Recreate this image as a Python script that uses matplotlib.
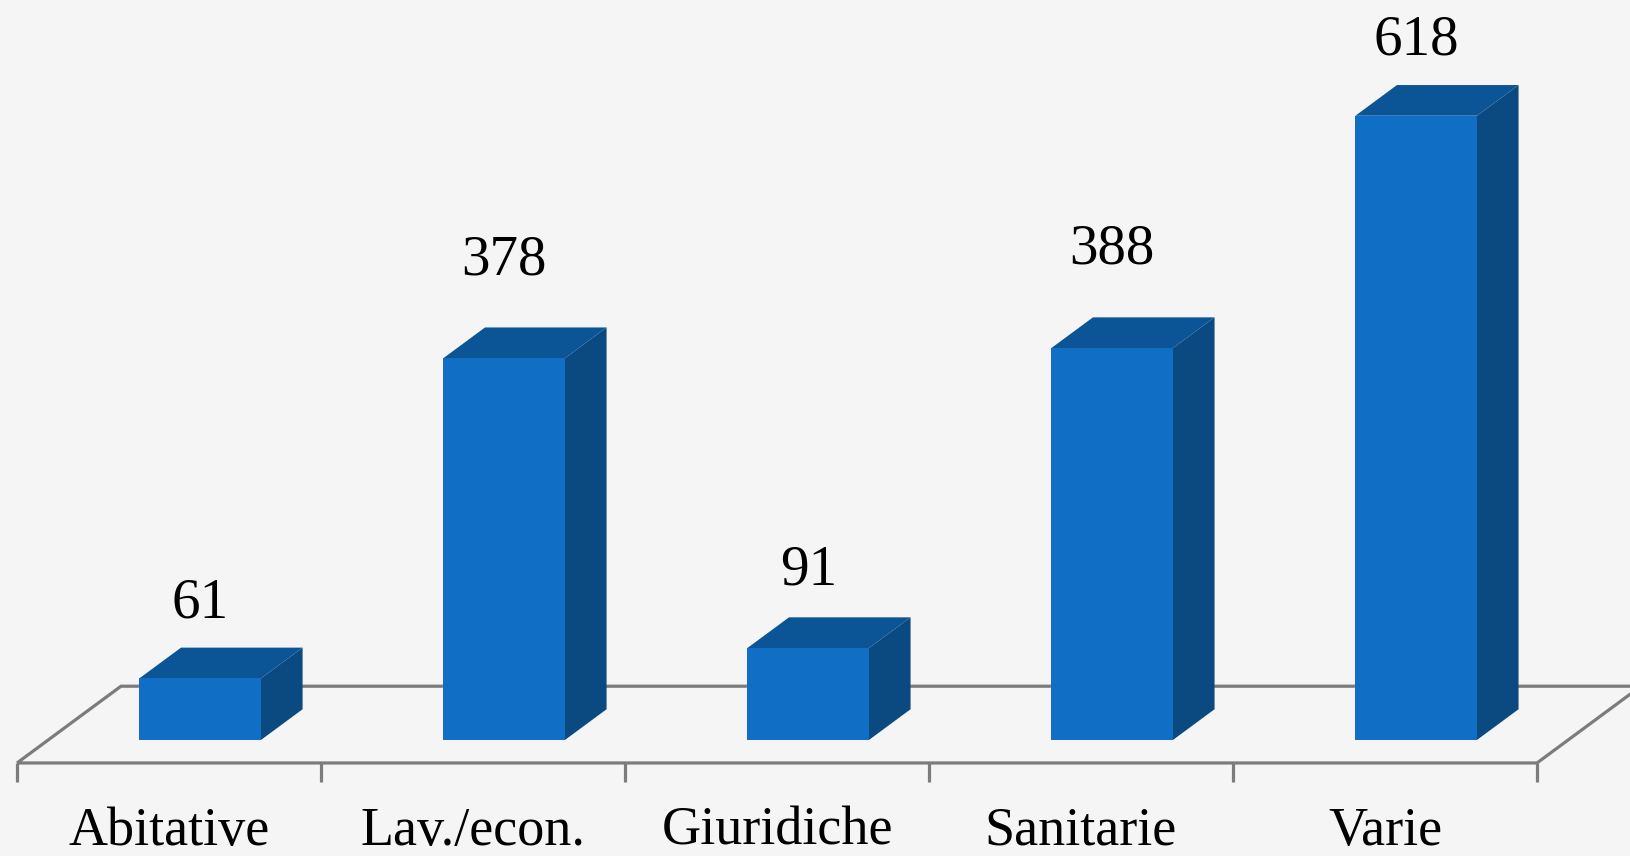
import numpy as np
import matplotlib.pyplot as plt
from matplotlib.patches import Polygon

categories = ["Abitative", "Lav./econ.", "Giuridiche", "Sanitarie", "Varie"]
values = [61, 378, 91, 388, 618]

# pseudo 3d floor: depth offset in data units (x in category units, y in value units)
DX = 0.342
DY = 76.0
d_front, d_back = 0.3, 0.7
half_w = 0.2

c_front = "#106fc5"
c_top = "#0b5597"
c_side = "#0a4a81"
c_floor = "#7c7c7c"
bg = "#f5f5f5"

plt.rcParams['font.family'] = ['Liberation Serif', 'DejaVu Serif']

fig = plt.figure(figsize=(16.3, 8.56), dpi=100, facecolor=bg)
ax = fig.add_axes([0, 0, 1, 1])
ax.set_facecolor(bg)
ax.set_xlim(-0.556, 4.806)
ax.set_ylim(-92.1, 755.4)
ax.axis("off")

n = len(categories)
x0, x1 = -0.5, n - 0.5

# floor outline
floor = [(x0, 0), (x1, 0), (x1 + DX, DY), (x0 + DX, DY)]
ax.add_patch(Polygon(floor, closed=True, fill=False, edgecolor=c_floor,
                     lw=2.3, zorder=1, joinstyle="miter"))
# ticks below the front edge
for t in np.arange(x0, x1 + 0.01, 1.0):
    ax.plot([t, t], [0, -19], color=c_floor, lw=2.3, zorder=1,
            solid_capstyle="butt")

label_top = 701  # labels are kept inside the plot area

for i, (cat, v) in enumerate(zip(categories, values)):
    fx = i + d_front * DX
    base = d_front * DY
    top = base + v
    ddx = (d_back - d_front) * DX
    ddy = (d_back - d_front) * DY
    left, right = fx - half_w, fx + half_w
    front = [(left, base), (right, base), (right, top), (left, top)]
    lid = [(left, top), (right, top), (right + ddx, top + ddy), (left + ddx, top + ddy)]
    side = [(right, base), (right + ddx, base + ddy), (right + ddx, top + ddy), (right, top)]
    ax.add_patch(Polygon(side, closed=True, facecolor=c_side, edgecolor="none", zorder=3))
    ax.add_patch(Polygon(lid, closed=True, facecolor=c_top, edgecolor="none", zorder=3))
    ax.add_patch(Polygon(front, closed=True, facecolor=c_front, edgecolor="none", zorder=4))
    ly = min(top + ddy + 26 + 0.07 * v, label_top)
    ax.text(fx, ly, str(v), ha="center", va="baseline",
            fontsize=41, color="black", zorder=5)
    ax.text(i, -81, cat, ha="center", va="baseline", fontsize=39,
            color="black", zorder=5)

fig.savefig("out.png", dpi=100, facecolor=bg)
